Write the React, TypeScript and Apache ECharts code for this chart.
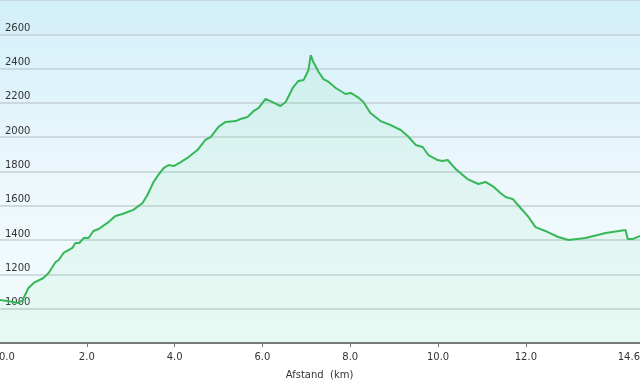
import React, { useEffect, useRef } from "react";
import * as echarts from "echarts";

const distances = [0, 0.19, 0.33, 0.44, 0.54, 0.67, 0.79, 1.01, 1.13, 1.29, 1.36, 1.47, 1.67, 1.74, 1.83, 1.93, 2.04, 2.15, 2.27, 2.47, 2.65, 2.81, 2.93, 3.06, 3.27, 3.38, 3.52, 3.63, 3.75, 3.86, 3.98, 4.14, 4.29, 4.52, 4.70, 4.82, 5.00, 5.16, 5.39, 5.50, 5.66, 5.80, 5.91, 6.07, 6.23, 6.41, 6.53, 6.69, 6.82, 6.94, 7.05, 7.10, 7.16, 7.28, 7.39, 7.51, 7.67, 7.89, 8.01, 8.17, 8.30, 8.46, 8.69, 8.92, 9.15, 9.31, 9.49, 9.65, 9.78, 9.99, 10.10, 10.22, 10.40, 10.67, 10.92, 11.08, 11.27, 11.42, 11.54, 11.70, 11.88, 12.06, 12.22, 12.50, 12.74, 12.97, 13.36, 13.82, 14.27, 14.32, 14.43, 14.60];

const elevations = [1051, 1045, 1039, 1033, 1051, 1121, 1150, 1179, 1208, 1272, 1284, 1325, 1354, 1383, 1383, 1412, 1412, 1453, 1465, 1500, 1541, 1552, 1564, 1576, 1616, 1663, 1739, 1780, 1820, 1838, 1832, 1855, 1879, 1925, 1984, 2001, 2060, 2089, 2094, 2106, 2118, 2153, 2170, 2223, 2205, 2182, 2205, 2287, 2328, 2334, 2392, 2479, 2438, 2380, 2339, 2322, 2287, 2252, 2258, 2234, 2205, 2141, 2094, 2071, 2042, 2007, 1955, 1943, 1896, 1867, 1861, 1867, 1815, 1756, 1727, 1739, 1710, 1675, 1651, 1640, 1587, 1535, 1476, 1447, 1418, 1401, 1412, 1441, 1459, 1406, 1406, 1424];

const xTicks = [0, 2, 4, 6, 8, 10, 12, 14.6];
const xAxisName = "Afstand  (km)";

export default function App() {
  const ref = useRef<HTMLDivElement>(null);
  useEffect(() => {
    if (!ref.current) return;
    const chart = echarts.init(ref.current, undefined, { renderer: "svg" });
    const font = "DejaVu Sans";
    chart.setOption({
      animation: false,
      grid: {
        left: -1,
        right: 0,
        top: 0,
        bottom: 40,
        containLabel: false,
        outerBoundsMode: "none",
        show: true,
        borderWidth: 0,
        backgroundColor: new echarts.graphic.LinearGradient(0, 0, 0, 1, [
          { offset: 0, color: "#d2eff9" },
          { offset: 0.55, color: "#eef8fc" },
          { offset: 1, color: "#f3fbfb" },
        ]),
      },
      xAxis: {
        type: "value",
        min: 0,
        max: 14.6,
        interval: 2,
        name: xAxisName,
        nameLocation: "middle",
        nameGap: 26,
        nameTextStyle: { fontFamily: font, fontSize: 10, color: "#333" },
        axisLine: { show: true, lineStyle: { color: "#777", width: 2 } },
        axisTick: {
          show: true,
          length: 4,
          customValues: xTicks,
          lineStyle: { color: "#777", width: 1 },
        },
        axisLabel: {
          customValues: xTicks,
          formatter: (v: number) => v.toFixed(1),
          fontFamily: font,
          fontSize: 10,
          color: "#333",
          margin: 8,
          alignMinLabel: "left",
          alignMaxLabel: "right",
        },
        splitLine: { show: false },
      },
      yAxis: {
        type: "value",
        min: 800,
        max: 2800,
        interval: 200,
        axisLine: { show: false },
        axisTick: { show: false },
        axisLabel: {
          inside: true,
          showMinLabel: false,
          showMaxLabel: false,
          formatter: (v: number) => String(v),
          fontFamily: font,
          fontSize: 10,
          color: "#333",
          margin: 6,
          verticalAlign: "bottom",
          padding: [0, 0, 2, 0],
        },
        splitLine: { show: true, lineStyle: { color: "#c3d0d4", width: 1.5 } },
      },
      series: [
        {
          type: "line",
          data: distances.map((d, i) => [d, elevations[i]]),
          showSymbol: false,
          symbol: "none",
          lineStyle: { color: "#36b758", width: 2 },
          areaStyle: {
            color: new echarts.graphic.LinearGradient(0, 0, 0, 1, [
              { offset: 0, color: "rgba(90,215,140,0.15)" },
              { offset: 1, color: "rgba(90,225,140,0.11)" },
            ]),
          },
          z: 3,
        },
      ],
    });
    return () => chart.dispose();
  }, []);
  return (
    <div
      ref={ref}
      style={{ position: "fixed", left: 0, top: 0, width: 640, height: 383 }}
    />
  );
}
